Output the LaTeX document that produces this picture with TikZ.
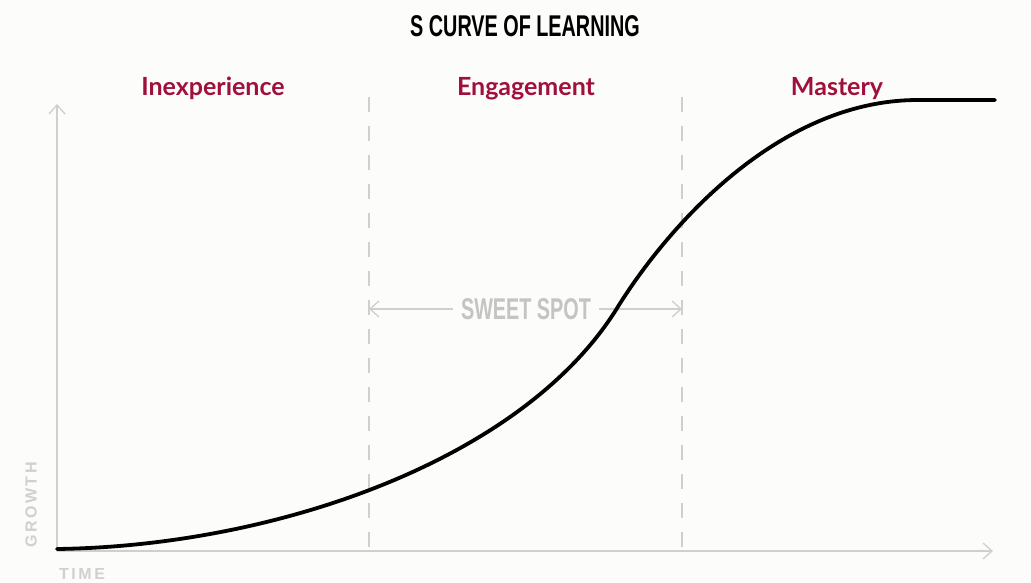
\documentclass[tikz,border=0pt]{standalone}
\usepackage{fontspec}
\setmainfont{Liberation Sans}
\newfontfamily\condf{Liberation Sans}[FakeStretch=0.66]
\newfontfamily\labf{Lato}
\newfontfamily\spacedf{Liberation Sans}[LetterSpace=16]
\usetikzlibrary{arrows.meta}
\definecolor{bg}{HTML}{FCFCFA}
\definecolor{crim}{RGB}{160,16,60}
\definecolor{axisgray}{HTML}{CFCFCF}
\definecolor{txtgray}{HTML}{C4C4C4}
\definecolor{faintgray}{HTML}{D0D0D0}
\tikzset{
  axisline/.style={draw=axisgray, line width=1.3pt, -{Straight Barb[length=9pt,width=16pt,line width=1.3pt]}},
  divider/.style={draw=axisgray, line width=1.3pt, dash pattern=on 15pt off 14pt},
  phase/.style={text=crim, font=\labf\bfseries\fontsize{25}{27}\selectfont, inner sep=0pt, anchor=base},
  curveline/.style={draw=black, line width=3.8pt, line cap=round},
  sweetarrow/.style={draw=axisgray, line width=1.3pt, {Straight Barb[length=9pt,width=16pt,line width=1.3pt]}-{Straight Barb[length=9pt,width=16pt,line width=1.3pt]}},
  axislabel/.style={text=faintgray, font=\spacedf\bfseries\fontsize{16}{18}\selectfont, inner sep=0pt},
}
\begin{document}
\begin{tikzpicture}[x=1pt,y=-1pt]
\fill[bg] (0,0) rectangle (1031,583);
\useasboundingbox (0,0) rectangle (1031,583);
% title
\node[font=\condf\bfseries\fontsize{30}{32}\selectfont, inner sep=0pt, anchor=base] (title) at (525,37) {S CURVE OF LEARNING};
% phase labels
\node[phase] (inexp) at (213,96) {Inexperience};
\node[phase] (engage) at (526,96) {Engagement};
\node[phase] (master) at (837,96) {Mastery};
% coordinates
\coordinate (origin) at (57,551);
\coordinate (ytip) at (57,104);
\coordinate (xtip) at (993,551);
\coordinate (d1top) at (369,97);
\coordinate (d1bot) at (369,548);
\coordinate (d2top) at (682,97);
\coordinate (d2bot) at (682,548);
\coordinate (ssL) at (369,309);
\coordinate (ssR) at (682,309);
\coordinate (cstart) at (57,549);
\coordinate (cinfl) at (619,305);
\coordinate (ctop) at (918,100);
\coordinate (cend) at (995,100);
% dividers
\draw[divider] (d1top) -- (d1bot);
\draw[divider] (d2top) -- (d2bot);
% axes
\draw[axisline] (origin) -- (ytip);
\draw[axisline] (origin) -- (xtip);
% sweet spot
\draw[sweetarrow] (ssL) -- (ssR);
\node[fill=bg, text=txtgray, font=\condf\bfseries\fontsize{30}{32}\selectfont, inner xsep=8pt, inner ysep=2pt] (sweet) at (526,309) {SWEET SPOT};
% curve
\draw[curveline] (cstart) .. controls (277,546) and (526,459) .. (cinfl)
  .. controls (670,224) and (780,100) .. (ctop) -- (cend);
% axis labels
\node[axislabel, rotate=90] (growth) at (31,505) {GROWTH};
\node[axislabel] (time) at (82,574) {TIME};
\end{tikzpicture}
\end{document}
